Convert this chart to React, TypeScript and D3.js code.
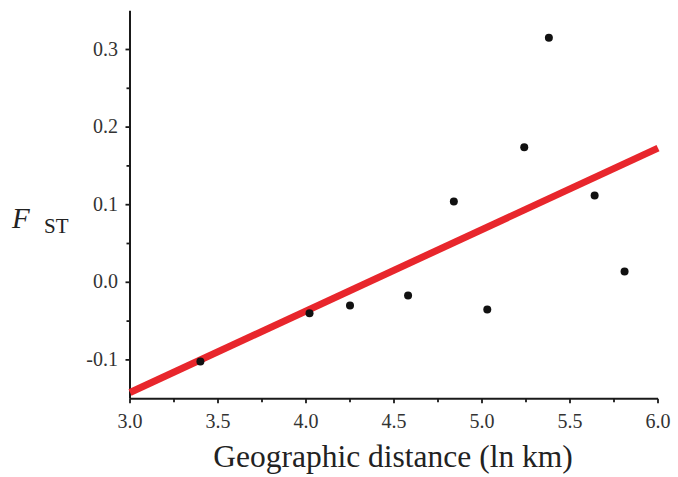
import React, { useEffect, useRef } from 'react';
import * as d3 from 'd3';

// observed pairwise values: ln(km) vs Fst
const distLnKm = [3.40, 4.02, 4.25, 4.58, 4.84, 5.03, 5.24, 5.38, 5.64, 5.81];
const fstValues = [-0.102, -0.040, -0.030, -0.017, 0.104, -0.035, 0.174, 0.315, 0.112, 0.014];

// fitted regression line end points
const fitX = [3.0, 6.0];
const fitY = [-0.142, 0.173];

const xTicks = [3.0, 3.5, 4.0, 4.5, 5.0, 5.5, 6.0];
const xMinorTicks = [3.25, 3.75, 4.25, 4.75, 5.25, 5.75];
const yTicks = [-0.1, 0.0, 0.1, 0.2, 0.3];
const yMinorTicks = [-0.05, 0.05, 0.15, 0.25];

const W = 678;
const H = 477;
const FONT = '"Liberation Serif", "Times New Roman", serif';

// plain hyphen for negatives, like the original
const fmt = (d: number) => d.toFixed(1);

const App = () => {
  const ref = useRef<SVGSVGElement>(null);

  useEffect(() => {
    const svg = d3.select(ref.current);
    svg.selectAll('*').remove();

    const left = 130;
    const right = 658;
    const top = 10.7;
    const bottom = 398.7;

    const x = d3.scaleLinear().domain([3.0, 6.0]).range([left, right]);
    const y = d3.scaleLinear().domain([-0.15, 0.35]).range([bottom, top]);

    const axisColor = '#1a1a1a';
    const labelColor = '#333';

    // x axis
    const gx = svg.append('g').attr('transform', `translate(0,${bottom})`);
    gx.append('line')
      .attr('x1', left).attr('x2', right)
      .attr('stroke', axisColor).attr('stroke-width', 2);
    gx.selectAll('.maj').data(xTicks).enter().append('line')
      .attr('x1', d => x(d)).attr('x2', d => x(d))
      .attr('y1', 0).attr('y2', 4.5)
      .attr('stroke', axisColor).attr('stroke-width', 1.8);
    gx.selectAll('.min').data(xMinorTicks).enter().append('line')
      .attr('x1', d => x(d)).attr('x2', d => x(d))
      .attr('y1', 0).attr('y2', 3.5)
      .attr('stroke', axisColor).attr('stroke-width', 1.8);
    gx.selectAll('text').data(xTicks).enter().append('text')
      .attr('x', d => x(d))
      .attr('y', 29)
      .attr('text-anchor', 'middle')
      .attr('font-family', FONT)
      .attr('font-size', 20)
      .attr('fill', labelColor)
      .text(fmt);

    // y axis
    const gy = svg.append('g').attr('transform', `translate(${left},0)`);
    gy.append('line')
      .attr('y1', top).attr('y2', bottom)
      .attr('stroke', axisColor).attr('stroke-width', 2);
    gy.selectAll('.maj').data(yTicks).enter().append('line')
      .attr('y1', d => y(d)).attr('y2', d => y(d))
      .attr('x1', 0).attr('x2', -4.5)
      .attr('stroke', axisColor).attr('stroke-width', 1.8);
    gy.selectAll('.min').data(yMinorTicks).enter().append('line')
      .attr('y1', d => y(d)).attr('y2', d => y(d))
      .attr('x1', 0).attr('x2', -3.5)
      .attr('stroke', axisColor).attr('stroke-width', 1.8);
    gy.selectAll('text').data(yTicks).enter().append('text')
      .attr('x', -12)
      .attr('y', d => y(d) + 6)
      .attr('text-anchor', 'end')
      .attr('font-family', FONT)
      .attr('font-size', 20)
      .attr('fill', labelColor)
      .text(fmt);

    // regression line
    const line = d3.line<number>()
      .x((_, i) => x(fitX[i]))
      .y(d => y(d));
    svg.append('path')
      .attr('d', line(fitY))
      .attr('fill', 'none')
      .attr('stroke', '#e8262c')
      .attr('stroke-width', 7);

    // points
    svg.selectAll('.pt').data(distLnKm).enter().append('circle')
      .attr('cx', d => x(d))
      .attr('cy', (_, i) => y(fstValues[i]))
      .attr('r', 4)
      .attr('fill', '#111');

    // axis titles
    svg.append('text')
      .attr('x', 393)
      .attr('y', 467)
      .attr('text-anchor', 'middle')
      .attr('font-family', FONT)
      .attr('font-size', 31.5)
      .attr('fill', '#222')
      .text('Geographic distance (ln km)');

    const ft = svg.append('text')
      .attr('x', 12)
      .attr('y', 228)
      .attr('font-family', FONT)
      .attr('fill', '#222');
    ft.append('tspan')
      .attr('font-style', 'italic')
      .attr('font-size', 29)
      .text('F');
    ft.append('tspan')
      .attr('x', 44)
      .attr('y', 233)
      .attr('font-size', 21)
      .text('ST');
  }, []);

  return (
    <svg
      ref={ref}
      width={W}
      height={H}
      style={{ position: 'absolute', left: 0, top: 0, background: '#fff' }}
    />
  );
};

export default App;
